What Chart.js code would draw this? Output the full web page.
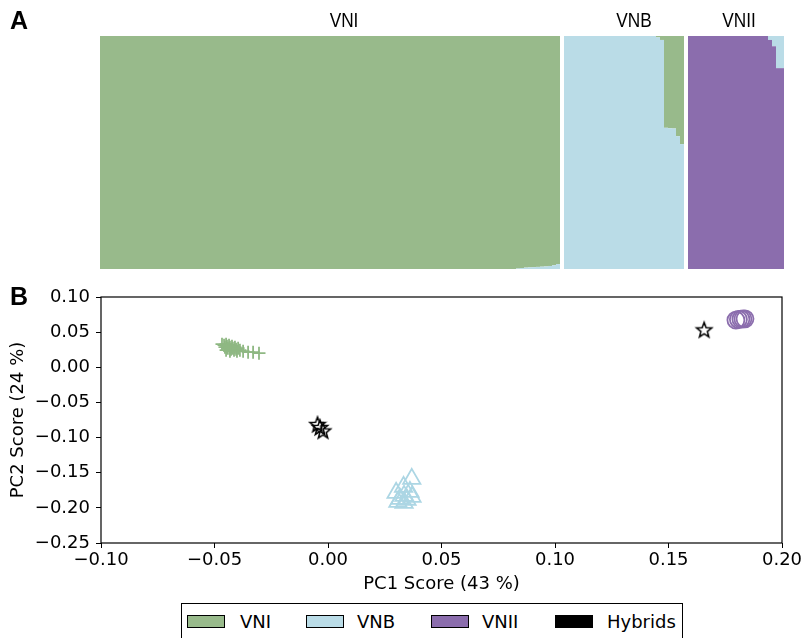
<!DOCTYPE html>
<html><head><meta charset="utf-8">
<script src="https://cdn.jsdelivr.net/npm/chart.js@4.4.1/dist/chart.umd.min.js"></script>
<style>
html,body{margin:0;padding:0;background:#fff;}
body{width:806px;height:638px;position:relative;overflow:hidden;font-family:"DejaVu Sans",sans-serif;color:#000;}
.box{position:absolute;left:0;width:806px;}
#wa{top:0;height:280px;}
#wb{top:280px;height:320px;}
.lbl{position:absolute;white-space:nowrap;}
.panel{font-family:"Liberation Sans",Arial,sans-serif;font-weight:bold;font-size:25px;line-height:25px;}
.grp{font-family:"Liberation Sans",sans-serif;font-size:21px;line-height:21px;transform:translateX(-50%) scaleX(0.82);}
#legend{position:absolute;left:181px;top:603px;width:502px;height:36px;border:1px solid #000;box-sizing:border-box;}
.sw{position:absolute;top:615px;width:38px;height:13px;border:1px solid #000;box-sizing:border-box;}
.lt{position:absolute;top:613px;font-size:18px;line-height:18px;font-family:"DejaVu Sans",sans-serif;}
</style>
</head><body>
<div class="box" id="wa"><canvas id="ca"></canvas></div>
<div class="box" id="wb"><canvas id="cb"></canvas></div>
<div class="lbl panel" style="left:10px;top:8px;">A</div>
<div class="lbl panel" style="left:10px;top:284px;">B</div>
<div class="lbl grp" id="g0" style="left:344px;top:9px;">VNI</div>
<div class="lbl grp" id="g1" style="left:634px;top:9px;">VNB</div>
<div class="lbl grp" id="g2" style="left:739px;top:9px;">VNII</div>
<div id="legend"></div>
<div class="sw" id="s0" style="left:187px;"></div><div class="lt" id="t0" style="left:240px;"></div>
<div class="sw" id="s1" style="left:306px;"></div><div class="lt" id="t1" style="left:357px;"></div>
<div class="sw" id="s2" style="left:431px;"></div><div class="lt" id="t2" style="left:482px;"></div>
<div class="sw" id="s3" style="left:555px;"></div><div class="lt" id="t3" style="left:607px;"></div>
<script>
// ---------- Panel A: ancestry proportions per individual ----------
const groups = ['VNI', 'VNB', 'VNII'];
const legendNames = ['VNI', 'VNB', 'VNII', 'Hybrids'];

const vniGreen = [
1,1,1,1,1,1,1,1,1,1,1,1,1,1,1,1,1,1,1,1,
1,1,1,1,1,1,1,1,1,1,1,1,1,1,1,1,1,1,1,1,
1,1,1,1,1,1,1,1,1,1,1,1,1,1,1,1,1,1,1,1,
1,1,1,1,1,1,1,1,1,1,1,1,1,1,1,1,1,1,1,1,
1,1,1,1,1,1,1,1,1,1,1,1,1,1,1,1,1,1,1,1,
1,1,1,1,0.998,0.996,0.994,0.993,0.992,0.991,0.990,0.989,0.987,0.984,0.979];
const vniBlue = [
0,0,0,0,0,0,0,0,0,0,0,0,0,0,0,0,0,0,0,0,
0,0,0,0,0,0,0,0,0,0,0,0,0,0,0,0,0,0,0,0,
0,0,0,0,0,0,0,0,0,0,0,0,0,0,0,0,0,0,0,0,
0,0,0,0,0,0,0,0,0,0,0,0,0,0,0,0,0,0,0,0,
0,0,0,0,0,0,0,0,0,0,0,0,0,0,0,0,0,0,0,0,
0,0,0,0,0.002,0.004,0.006,0.007,0.008,0.009,0.010,0.011,0.013,0.016,0.021];
const vniPurple = [
0,0,0,0,0,0,0,0,0,0,0,0,0,0,0,0,0,0,0,0,
0,0,0,0,0,0,0,0,0,0,0,0,0,0,0,0,0,0,0,0,
0,0,0,0,0,0,0,0,0,0,0,0,0,0,0,0,0,0,0,0,
0,0,0,0,0,0,0,0,0,0,0,0,0,0,0,0,0,0,0,0,
0,0,0,0,0,0,0,0,0,0,0,0,0,0,0,0,0,0,0,0,
0,0,0,0,0,0,0,0,0,0,0,0,0,0,0];

const vnbGreen = [0,0,0,0,0,0,0,0,0,0,0,0,0,0,0,0,0,0,0,0,0,0,0,0.006,0.017,0.394,0.396,0.397,0.430,0.464];
const vnbBlue  = [1,1,1,1,1,1,1,1,1,1,1,1,1,1,1,1,1,1,1,1,1,1,1,0.994,0.983,0.606,0.604,0.603,0.570,0.536];
const vnbPurple= [0,0,0,0,0,0,0,0,0,0,0,0,0,0,0,0,0,0,0,0,0,0,0,0,0,0,0,0,0,0];

const vniiGreen = [0,0,0,0,0,0,0,0,0,0,0,0,0,0,0,0,0,0,0,0,0,0,0,0];
const vniiBlue  = [0,0,0,0,0,0,0,0,0,0,0,0,0,0,0,0,0,0,0,0,0.017,0.044,0.138,0.138];
const vniiPurple= [1,1,1,1,1,1,1,1,1,1,1,1,1,1,1,1,1,1,1,1,0.983,0.956,0.862,0.862];

// ---------- Panel B: PCA scores ----------
const vniX = [-0.0467,-0.0458,-0.0454,-0.0449,-0.0445,-0.0441,-0.0436,-0.0432,-0.0427,-0.0423,-0.0419,-0.0414,-0.0410,-0.0405,-0.0401,-0.0396,-0.0388,-0.0374,-0.0352,-0.0330,-0.0304,-0.0449,-0.0432];
const vniY = [0.0329,0.0314,0.0286,0.0329,0.0300,0.0272,0.0314,0.0286,0.0258,0.0300,0.0272,0.0244,0.0286,0.0258,0.0229,0.0272,0.0244,0.0229,0.0215,0.0215,0.0201,0.0244,0.0229];
const vnbX = [0.0369,0.0333,0.0300,0.0335,0.0361,0.0317,0.0348,0.0308,0.0335,0.0370];
const vnbY = [-0.1587,-0.1701,-0.1786,-0.1829,-0.1772,-0.1871,-0.1885,-0.1914,-0.1928,-0.1843];
const vniiX = [0.1797,0.1808,0.1819,0.1828,0.1837];
const vniiY = [0.0672,0.0680,0.0684,0.0688,0.0690];
const hybX = [-0.0046,-0.0035,-0.0022,0.1657];
const hybY = [-0.0807,-0.0850,-0.0899,0.0539];

const xTicks = [-0.10,-0.05,0.00,0.05,0.10,0.15,0.20];
const yTicks = [-0.25,-0.20,-0.15,-0.10,-0.05,0.00,0.05,0.10];

const GREEN = '#98ba8b', BLUE = '#badce7', PURPLE = '#8b6dad', BLACK = '#000000';
const PLUS_GREEN = '#8fb883', TRI_BLUE = '#acd6e4';
const colors = [GREEN, BLUE, PURPLE, BLACK];

// legend (HTML)
legendNames.forEach((n, i) => {
  document.getElementById('s' + i).style.background = colors[i];
  document.getElementById('t' + i).textContent = n;
});

// build panel A series
const lab = (arr, g) => arr.map((_, i) => g + ' ' + (i + 1));
const indLabels = [...lab(vniGreen, groups[0]), ' ', ...lab(vnbGreen, groups[1]), '  ', ...lab(vniiGreen, groups[2])];
const greenSeries = [...vniGreen, null, ...vnbGreen, null, ...vniiGreen];
const blueSeries = [...vniBlue, null, ...vnbBlue, null, ...vniiBlue];
const purpleSeries = [...vniPurple, null, ...vnbPurple, null, ...vniiPurple];

new Chart(document.getElementById('ca'), {
  type: 'bar',
  data: {
    labels: indLabels,
    datasets: [
      {label: 'VNII', data: purpleSeries, backgroundColor: PURPLE},
      {label: 'VNB', data: blueSeries, backgroundColor: BLUE},
      {label: 'VNI', data: greenSeries, backgroundColor: GREEN}
    ]
  },
  options: {
    responsive: true, maintainAspectRatio: false, animation: false,
    layout: {padding: {left: 100, right: 22, top: 36, bottom: 11}},
    datasets: {bar: {categoryPercentage: 1, barPercentage: 1, borderWidth: 0, inflateAmount: 0}},
    scales: {
      x: {stacked: true, display: false},
      y: {stacked: true, display: false, min: 0, max: 1}
    },
    plugins: {legend: {display: false}, tooltip: {enabled: false}}
  }
});

function makeStar(r, color) {
  const s = Math.ceil(2 * r + 4);
  const c = document.createElement('canvas');
  c.width = s; c.height = s;
  const ctx = c.getContext('2d');
  ctx.beginPath();
  for (let i = 0; i < 10; i++) {
    const rad = i % 2 === 0 ? r : r * 0.42;
    const a = -Math.PI / 2 + i * Math.PI / 5;
    const x = s / 2 + rad * Math.cos(a), y = s / 2 + 1 + rad * Math.sin(a);
    if (i) ctx.lineTo(x, y); else ctx.moveTo(x, y);
  }
  ctx.closePath();
  ctx.lineWidth = 1.5; ctx.strokeStyle = color; ctx.stroke();
  return c;
}
const starImg = makeStar(8, BLACK);

const pts = (xs, ys) => xs.map((x, i) => ({x: x, y: ys[i]}));
const fmt = v => { if (Math.abs(v) < 1e-9) v = 0; const s = v.toFixed(2); return s.replace('-', '\u2212'); };
const tickFont = {family: 'DejaVu Sans', size: 18};

const frame = {
  id: 'frame',
  afterDraw(chart) {
    const {ctx, chartArea: {left, top, right, bottom}} = chart;
    ctx.save(); ctx.strokeStyle = '#000'; ctx.lineWidth = 1.2;
    ctx.strokeRect(left, top, right - left, bottom - top);
    ctx.restore();
  }
};

new Chart(document.getElementById('cb'), {
  type: 'scatter',
  data: {
    datasets: [
      {label: 'VNI', data: pts(vniX, vniY), pointStyle: 'cross', pointRadius: 6.5, borderColor: PLUS_GREEN, borderWidth: 1.8, backgroundColor: PLUS_GREEN},
      {label: 'VNB', data: pts(vnbX, vnbY), pointStyle: 'triangle', pointRadius: 10, borderColor: TRI_BLUE, borderWidth: 1.8, backgroundColor: 'rgba(0,0,0,0)'},
      {label: 'VNII', data: pts(vniiX, vniiY), pointStyle: 'circle', pointRadius: 8.5, borderColor: PURPLE, borderWidth: 1.8, backgroundColor: 'rgba(0,0,0,0)'},
      {label: 'Hybrids', data: pts(hybX, hybY), pointStyle: starImg, pointRadius: 8, borderColor: BLACK, backgroundColor: 'rgba(0,0,0,0)'}
    ]
  },
  options: {
    responsive: true, maintainAspectRatio: false, animation: false,
    layout: {padding: {left: 0, right: 24, top: 17, bottom: 5}},
    scales: {
      x: {
        type: 'linear', min: xTicks[0], max: xTicks[xTicks.length - 1],
        afterBuildTicks: s => { s.ticks = xTicks.map(v => ({value: v})); },
        ticks: {callback: fmt, font: tickFont, color: '#000', padding: 2, maxRotation: 0, autoSkip: false},
        grid: {drawOnChartArea: false, drawTicks: true, tickLength: 5, color: '#000', lineWidth: 1},
        border: {display: false},
        title: {display: true, text: 'PC1 Score (43 %)', font: tickFont, color: '#000', padding: {top: 0, bottom: 0}},
        afterFit: s => { s.height = 52; }
      },
      y: {
        type: 'linear', min: yTicks[0], max: yTicks[yTicks.length - 1],
        afterBuildTicks: s => { s.ticks = yTicks.map(v => ({value: v})); },
        ticks: {callback: fmt, font: tickFont, color: '#000', padding: 6, autoSkip: false},
        grid: {drawOnChartArea: false, drawTicks: true, tickLength: 5, color: '#000', lineWidth: 1},
        border: {display: false},
        title: {display: true, text: 'PC2 Score (24 %)', font: tickFont, color: '#000', padding: {top: 8, bottom: 0}},
        afterFit: s => { s.width = 101; }
      }
    },
    plugins: {legend: {display: false}, tooltip: {enabled: false}}
  },
  plugins: [frame]
});
</script>
</body></html>
